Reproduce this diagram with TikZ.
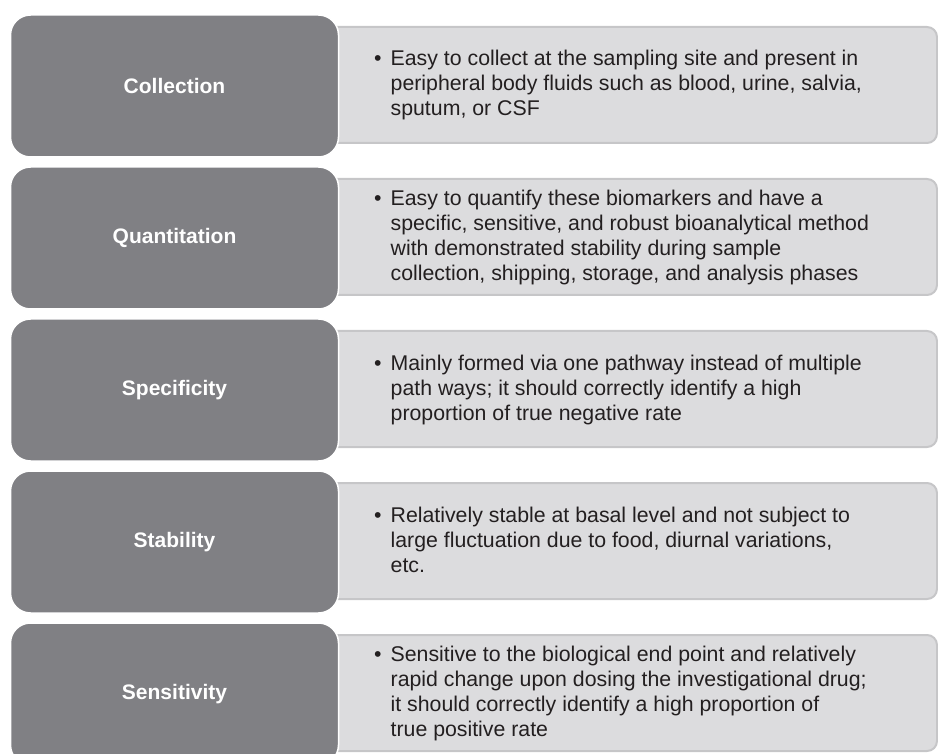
\documentclass[tikz,border=0pt]{standalone}
\usepackage{fontspec}
\setmainfont{Liberation Sans}
\usetikzlibrary{positioning}

\definecolor{labelgray}{HTML}{808084}
\definecolor{descgray}{HTML}{DCDCDE}
\definecolor{descline}{HTML}{C6C6C8}
\definecolor{inkgray}{HTML}{231F20}

\newcommand{\desclines}[1]{%
  \begin{tabular}{@{}l@{\hspace{9pt}}l@{}}#1\end{tabular}}

\begin{document}
\begin{tikzpicture}[
            x=1pt, y=-1pt,
            labelbox/.style={rectangle, rounded corners=20pt, fill=labelgray,
                draw=white, line width=1.5pt, minimum width=328pt,
                minimum height=142pt, inner sep=0pt, text=white,
                font=\fontsize{21}{25}\selectfont\bfseries},
            descbox/.style={rectangle, rounded corners=10pt, fill=descgray,
                draw=descline, line width=2pt, minimum width=627pt,
                minimum height=116pt, inner sep=0pt},
            desctext/.style={anchor=west, inner sep=0pt, text=inkgray,
                font=\fontsize{21.3}{25}\selectfont}
        ]

        \clip (0,0) rectangle (938,754);

        % collection
        \node[descbox] (collection-box) at (623.5,85) {};
        \node[labelbox] (collection) at (174.5,86) {Collection};
        \node[desctext, right=65pt of collection-box.west, yshift=-1pt] (collection-desc) {\desclines{%
            \textbullet & Easy to collect at the sampling site and present in\\
            & peripheral body fluids such as blood, urine, salvia,\\
            & sputum, or CSF}};

        % quantitation
        \node[descbox] (quantitation-box) at (623.5,237) {};
        \node[labelbox] (quantitation) at (174.5,238) {Quantitation};
        \node[desctext, right=65pt of quantitation-box.west, yshift=-1pt] (quantitation-desc) {\desclines{%
            \textbullet & Easy to quantify these biomarkers and have a\\
            & specific, sensitive, and robust bioanalytical method\\
            & with demonstrated stability during sample\\
            & collection, shipping, storage, and analysis phases}};

        % specificity
        \node[descbox] (specificity-box) at (623.5,389) {};
        \node[labelbox] (specificity) at (174.5,390) {Specificity};
        \node[desctext, right=65pt of specificity-box.west, yshift=-1pt] (specificity-desc) {\desclines{%
            \textbullet & Mainly formed via one pathway instead of multiple\\
            & path ways; it should correctly identify a high\\
            & proportion of true negative rate}};

        % stability
        \node[descbox] (stability-box) at (623.5,541) {};
        \node[labelbox] (stability) at (174.5,542) {Stability};
        \node[desctext, right=65pt of stability-box.west, yshift=-1pt] (stability-desc) {\desclines{%
            \textbullet & Relatively stable at basal level and not subject to\\
            & large fluctuation due to food, diurnal variations,\\
            & etc.}};

        % sensitivity
        \node[descbox] (sensitivity-box) at (623.5,693) {};
        \node[labelbox] (sensitivity) at (174.5,694) {Sensitivity};
        \node[desctext, right=65pt of sensitivity-box.west, yshift=-1pt] (sensitivity-desc) {\desclines{%
            \textbullet & Sensitive to the biological end point and relatively\\
            & rapid change upon dosing the investigational drug;\\
            & it should correctly identify a high proportion of\\
            & true positive rate}};

    \end{tikzpicture}
\end{document}
